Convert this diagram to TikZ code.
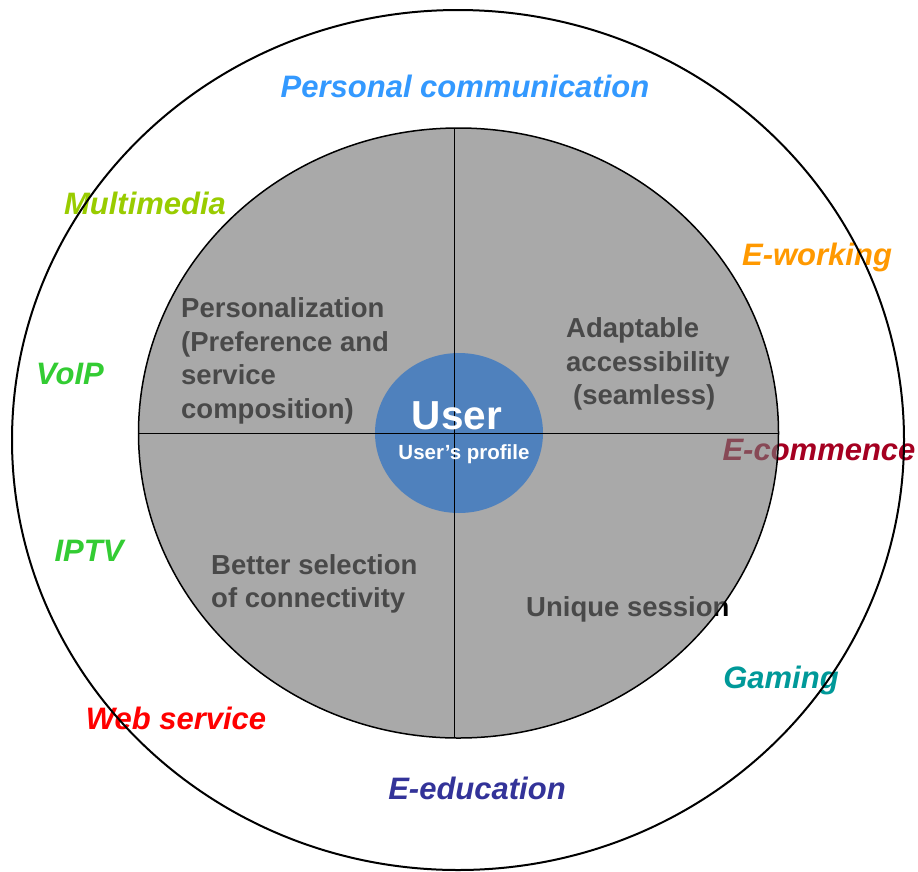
\documentclass[tikz,border=0pt]{standalone}
\usepackage{fontspec}
\setmainfont{Liberation Sans}
\definecolor{pcblue}{HTML}{3399FF}
\definecolor{mmgreen}{HTML}{99CC00}
\definecolor{ewor}{HTML}{FF9900}
\definecolor{vgreen}{HTML}{33CC33}
\definecolor{ecom}{HTML}{A50021}
\definecolor{gteal}{HTML}{009999}
\definecolor{wred}{HTML}{FF0000}
\definecolor{edub}{HTML}{333399}
\definecolor{userblue}{HTML}{4F81BD}
\definecolor{disc}{RGB}{118,118,118}
\begin{document}
\begin{tikzpicture}[x=1pt,y=-1pt,
  outlabel/.style={font=\fontsize{31}{36}\selectfont\bfseries\itshape, inner sep=0pt},
  inlabel/.style={font=\fontsize{27.5}{33.5}\selectfont\bfseries, align=left, inner sep=0pt, anchor=west, text=black}]
\useasboundingbox[fill=white] (0,0) rectangle (918,871);
% outer labels
\node[outlabel, text=pcblue] (pc) at (465,86) {Personal communication};
\node[outlabel, text=mmgreen] (mm) at (145,203) {Multimedia};
\node[outlabel, text=ewor] (ew) at (817,257) {E-working};
\node[outlabel, text=vgreen] (voip) at (70,374) {VoIP};
\node[outlabel, text=ecom] (ec) at (819,450) {E-commence};
\node[outlabel, text=vgreen] (iptv) at (89,551) {IPTV};
\node[outlabel, text=gteal] (gam) at (781,680) {Gaming};
\node[outlabel, text=wred] (web) at (176,718) {Web service};
\node[outlabel, text=edub] (edu) at (477,788) {E-education};
% inner texts
\node[inlabel] (pers) at (181,361) {Personalization\\(Preference and\\service\\composition)};
\node[inlabel] (adap) at (566,364) {Adaptable\\accessibility\\\hspace{7pt}(seamless)};
\node[inlabel] (bett) at (211,584) {Better selection\\of connectivity};
\node[inlabel] (uniq) at (526,609) {Unique session};
% outer ellipse
\draw[line width=2pt] (458,440) ellipse [x radius=446, y radius=430];
% gray disc
\fill[disc, fill opacity=0.624] (458.5,433) ellipse [x radius=320, y radius=305];
\draw[line width=1.5pt] (458.5,433) ellipse [x radius=320, y radius=305];
% blue user circle
\fill[userblue] (459,433) ellipse [x radius=84, y radius=80];
% cross lines
\coordinate (top) at (454,128);
\coordinate (bot) at (454,738);
\coordinate (lft) at (139,433);
\coordinate (rgt) at (778,433);
\draw[line width=1pt] (top) -- (bot);
\draw[line width=1pt] (lft) -- (rgt);
% user texts
\node[font=\fontsize{40.5}{44}\selectfont\bfseries, text=white, inner sep=0pt] (user) at (457,416) {User};
\node[font=\fontsize{20.5}{24}\selectfont\bfseries, text=white, inner sep=0pt] (prof) at (464,454) {User’s profile};
\end{tikzpicture}
\end{document}
